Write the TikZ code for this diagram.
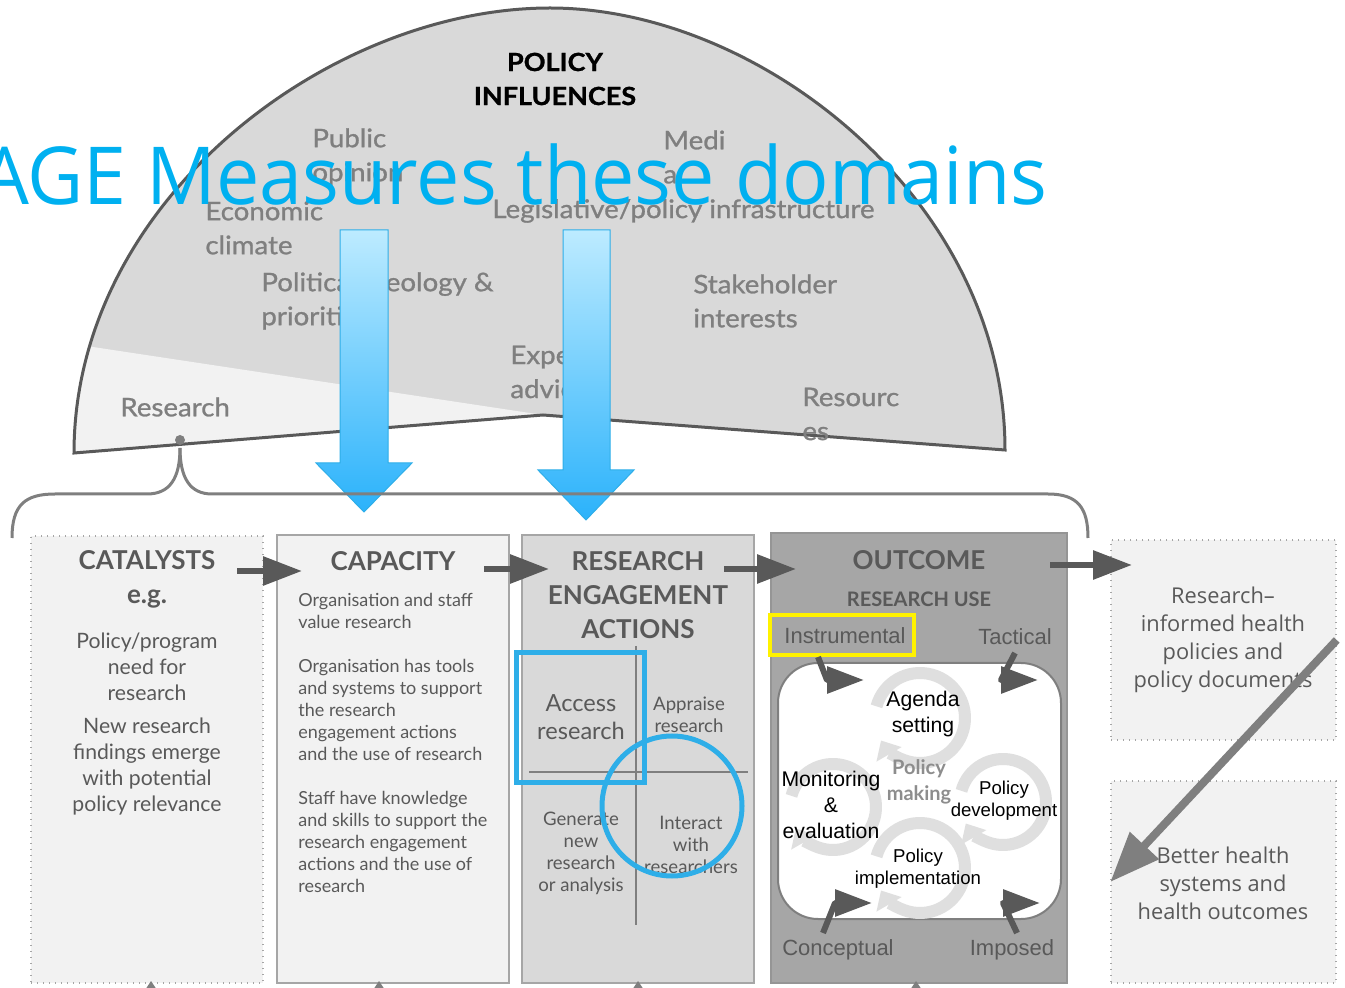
\documentclass[tikz,border=0pt]{standalone}
\usepackage{fontspec}
\setmainfont{Lato}
\newfontfamily\domefont[FakeStretch=1.08,FakeBold=1]{Lato}
\newfontfamily\arialfont{Liberation Sans}
\newfontfamily\segoefont{Open Sans}
\newfontfamily\titlefont[FakeStretch=0.965]{Open Sans}
\usetikzlibrary{arrows.meta}

\definecolor{darkgrey}{HTML}{595959}
\definecolor{midgrey}{HTML}{7F7F7F}
\definecolor{domegrey}{HTML}{D9D9D9}
\definecolor{palegrey}{HTML}{F2F2F2}
\definecolor{boxgrey}{HTML}{A6A6A6}
\definecolor{titleblue}{HTML}{00B0F0}
\definecolor{markblue}{HTML}{2EAEE8}
\definecolor{arrowtop}{HTML}{BDEBFF}
\definecolor{arrowbot}{HTML}{2AB2FB}

\tikzset{
  domelabel/.style={anchor=west,inner sep=0,align=left,text=midgrey,font=\domefont\fontsize{12.8}{17}\selectfont},
  boxhead/.style={inner sep=0,align=center,text=darkgrey,font=\bfseries\fontsize{13}{17}\selectfont},
  catalyst/.style={inner sep=0,align=center,text=darkgrey,font=\fontsize{10.6}{13}\selectfont},
  capacity/.style={anchor=west,inner sep=0,align=left,text=darkgrey,font=\fontsize{9}{11}\selectfont},
  action/.style={inner sep=0,align=center,text=darkgrey,font=\fontsize{9.3}{11}\selectfont},
  uselabel/.style={inner sep=0,text=darkgrey,font=\arialfont\fontsize{11}{13}\selectfont},
  stage/.style={inner sep=0,align=center,font=\arialfont\fontsize{10.6}{13}\selectfont},
  outcometext/.style={inner sep=0,align=center,text=darkgrey,font=\segoefont\fontsize{10.9}{14}\selectfont},
  turn/.style={draw=domegrey!85,line width=6pt,-{Triangle[length=8pt,width=14pt]}},
  flow/.style={draw=darkgrey,line width=3pt,-{Triangle[length=19.5pt,width=14pt]}},
  usearrow/.style={draw=darkgrey,line width=3pt,line join=round,-{Triangle[length=18.5pt,width=13pt]}},
  solidbox/.style={draw=boxgrey,line width=1pt,inner sep=0},
  dotbox/.style={fill=palegrey,draw=boxgrey,line width=0.7pt,dash pattern=on 0.7pt off 2.3pt,inner sep=0},
  downarrow/.style={top color=arrowtop,bottom color=arrowbot,draw=markblue,line width=0.5pt},
}

\begin{document}
\begin{tikzpicture}[x=0.5pt,y=-0.5pt]
\clip (0,0) rectangle (1345,988);

% policy influences dome
\fill[domegrey] (74,453) .. controls (74,200) and (330,8) .. (550,8)
  .. controls (760,8) and (1005,200) .. (1005,450) -- (543,415) -- cycle;
\begin{scope}
  \clip (74,453) .. controls (74,200) and (330,8) .. (550,8)
    .. controls (760,8) and (1005,200) .. (1005,450) -- (543,415) -- cycle;
  \fill[palegrey] (40,339) -- (543,415) -- (40,470) -- cycle;
\end{scope}
\draw[darkgrey,line width=1.5pt] (74,453) .. controls (74,200) and (330,8) .. (550,8)
  .. controls (760,8) and (1005,200) .. (1005,450) -- (543,415) -- cycle;

\node[inner sep=0,align=center,font=\domefont\bfseries\fontsize{12.5}{17}\selectfont] (influences) at (555,79) {POLICY\\INFLUENCES};
\node[domelabel] (public) at (312,157) {Public\\opinion};
\node[domelabel] (media) at (663,157) {Medi\\a};
\node[domelabel] (economic) at (205,228) {Economic\\climate};
\node[domelabel] (legislative) at (492,211) {Legislative/policy infrastructure};
\node[domelabel] (ideology) at (261,301) {Political ideology \&\\priorities};
\node[domelabel] (stakeholder) at (693,301) {Stakeholder\\interests};
\node[domelabel] (expert) at (510,372) {Expert\\advice};
\node[domelabel] (resources) at (802,414) {Resourc\\es};
\node[domelabel] (research) at (120,407) {Research};

\node[anchor=base east,inner sep=0,text=titleblue,font=\titlefont\fontsize{40}{44}\selectfont] (title) at (1048,205) {AGE Measures these domains};

% blue arrows down into the boxes
\draw[downarrow] (340,230) -- (388,230) -- (388,463) -- (412,463) -- (364,512) -- (316,463) -- (340,463) -- cycle;
\draw[downarrow] (563,230) -- (610,230) -- (610,470) -- (634,470) -- (586,520) -- (538,470) -- (563,470) -- cycle;

% brace under the research slice
\draw[midgrey,line width=1.5pt] (12,538) .. controls (12,505) and (25,494) .. (55,494) -- (147,494)
  .. controls (170,494) and (180,478) .. (180,448);
\draw[midgrey,line width=1.5pt] (180,448) .. controls (180,478) and (190,494) .. (212,494) -- (1048,494)
  .. controls (1078,494) and (1088,508) .. (1088,538);
\fill[midgrey] (180,440) circle[radius=5];

% the boxes
\node[dotbox,minimum width=116pt,minimum height=223.5pt] (catalysts) at (147,759.5) {};
\node[solidbox,fill=palegrey,minimum width=116pt,minimum height=224pt] (capacity) at (393,759) {};
\node[solidbox,fill=domegrey,minimum width=116pt,minimum height=224pt] (engagement) at (638,759) {};
\node[solidbox,fill=boxgrey,draw=boxgrey!90!black,minimum width=148pt,minimum height=225pt] (outcome) at (919,758) {};
\node[dotbox,minimum width=112.5pt,minimum height=100pt] (informed) at (1223.5,640) {};
\node[dotbox,minimum width=112.5pt,minimum height=101pt] (better) at (1223.5,882) {};

\foreach \x in {151,379,638,916}
  \fill[midgrey] (\x-6,990) -- (\x,981) -- (\x+6,990) -- cycle;

% arrows between the boxes
\coordinate (f1a) at (237,571); \coordinate (f1b) at (302,571);
\coordinate (f2a) at (484,569); \coordinate (f2b) at (549,569);
\coordinate (f3a) at (724,569); \coordinate (f3b) at (796,569);
\coordinate (f4a) at (1050,565); \coordinate (f4b) at (1132,565);
\draw[flow] (f1a) -- (f1b);
\draw[flow] (f2a) -- (f2b);
\draw[flow] (f3a) -- (f3b);
\draw[flow] (f4a) -- (f4b);

% catalysts
\node[boxhead] (cathead) at (147,579) {CATALYSTS\\e.g.};
\node[catalyst] (need) at (147,667) {Policy/program\\need for\\research};
\node[catalyst] (findings) at (147,767) {New research\\findings emerge\\with potential\\policy relevance};

% capacity
\node[boxhead] (caphead) at (393,561) {CAPACITY};
\node[capacity] (value) at (298,611) {Organisation and staff\\value research};
\node[capacity] (tools) at (298,710) {Organisation has tools\\and systems to support\\the research\\engagement actions\\and the use of research};
\node[capacity] (skills) at (298,842) {Staff have knowledge\\and skills to support the\\research engagement\\actions and the use of\\research};

% research engagement actions
\node[boxhead] (acthead) at (638,595) {RESEARCH\\ENGAGEMENT\\ACTIONS};
\draw[midgrey,line width=1pt] (636,646) -- (636,925);
\draw[midgrey,line width=1pt] (529,772) -- (748,772);
\node[action,font=\fontsize{11.8}{14}\selectfont] (access) at (581,717) {Access\\research};
\node[action] (appraise) at (689,715) {Appraise\\research};
\node[action] (generate) at (581,853) {Generate\\new\\research\\or analysis};
\node[action] (interact) at (691,845) {Interact\\with\\researchers};
\draw[markblue,line width=2.5pt] (516,653) rectangle (644,783);
\draw[markblue,line width=2.5pt] (672,806) circle[radius=70];

% outcome
\node[boxhead] (outhead) at (919,560) {OUTCOME};
\node[boxhead,font=\bfseries\fontsize{10}{12}\selectfont] (use) at (919,599) {RESEARCH USE};
\node[uselabel] (instrumental) at (845,636) {Instrumental};
\node[uselabel] (tactical) at (1015,637) {Tactical};
\node[uselabel] (conceptual) at (838,950) {Conceptual};
\node[uselabel] (imposed) at (1012,950) {Imposed};
\draw[yellow,line width=2pt] (770,615) rectangle (914,655);
\draw[fill=white,draw=midgrey,line width=1pt,rounded corners=20pt] (778,663) rectangle (1061,919);

\draw[turn] (920,718) ++(-165:45) arc[start angle=-165,end angle=150,radius=45];
\draw[turn] (833,807) ++(-165:43) arc[start angle=-165,end angle=150,radius=43];
\draw[turn] (1003,802) ++(-165:43) arc[start angle=-165,end angle=150,radius=43];
\draw[turn] (920,868) ++(-165:45) arc[start angle=-165,end angle=150,radius=45];

\node[stage] (agenda) at (923,714) {Agenda\\setting};
\node[inner sep=0,align=center,text=boxgrey!85!black,font=\bfseries\fontsize{10}{13}\selectfont] (making) at (919,782) {Policy\\making};
\node[stage] (monitoring) at (831,805) {Monitoring\\\&\\evaluation};
\node[stage,font=\arialfont\fontsize{9.3}{11}\selectfont] (development) at (1004,801) {Policy\\development};
\node[stage,font=\arialfont\fontsize{9.3}{11}\selectfont] (implementation) at (918,869) {Policy\\implementation};

\coordinate (u1a) at (818,657); \coordinate (u1b) at (827,680); \coordinate (u1c) at (864,680);
\coordinate (u2a) at (1015,653); \coordinate (u2b) at (1001,680); \coordinate (u2c) at (1038,680);
\coordinate (u3a) at (823,933); \coordinate (u3b) at (835,903); \coordinate (u3c) at (872,903);
\coordinate (u4a) at (1017,933); \coordinate (u4b) at (1003,903); \coordinate (u4c) at (1040,903);
\draw[usearrow] (u1a) -- (u1b) -- (u1c);
\draw[usearrow] (u2a) -- (u2b) -- (u2c);
\draw[usearrow] (u3a) -- (u3b) -- (u3c);
\draw[usearrow] (u4a) -- (u4b) -- (u4c);

% results
\node[outcometext] (policies) at (1223,640) {Research–\\informed health\\policies and\\policy documents};
\node[outcometext] (systems) at (1223,883) {Better health\\systems and\\health outcomes};
\draw[draw=midgrey,line width=4pt,-{Triangle[length=25pt,width=19pt]}] (informed.east) -- (better.west);
\end{tikzpicture}
\end{document}
